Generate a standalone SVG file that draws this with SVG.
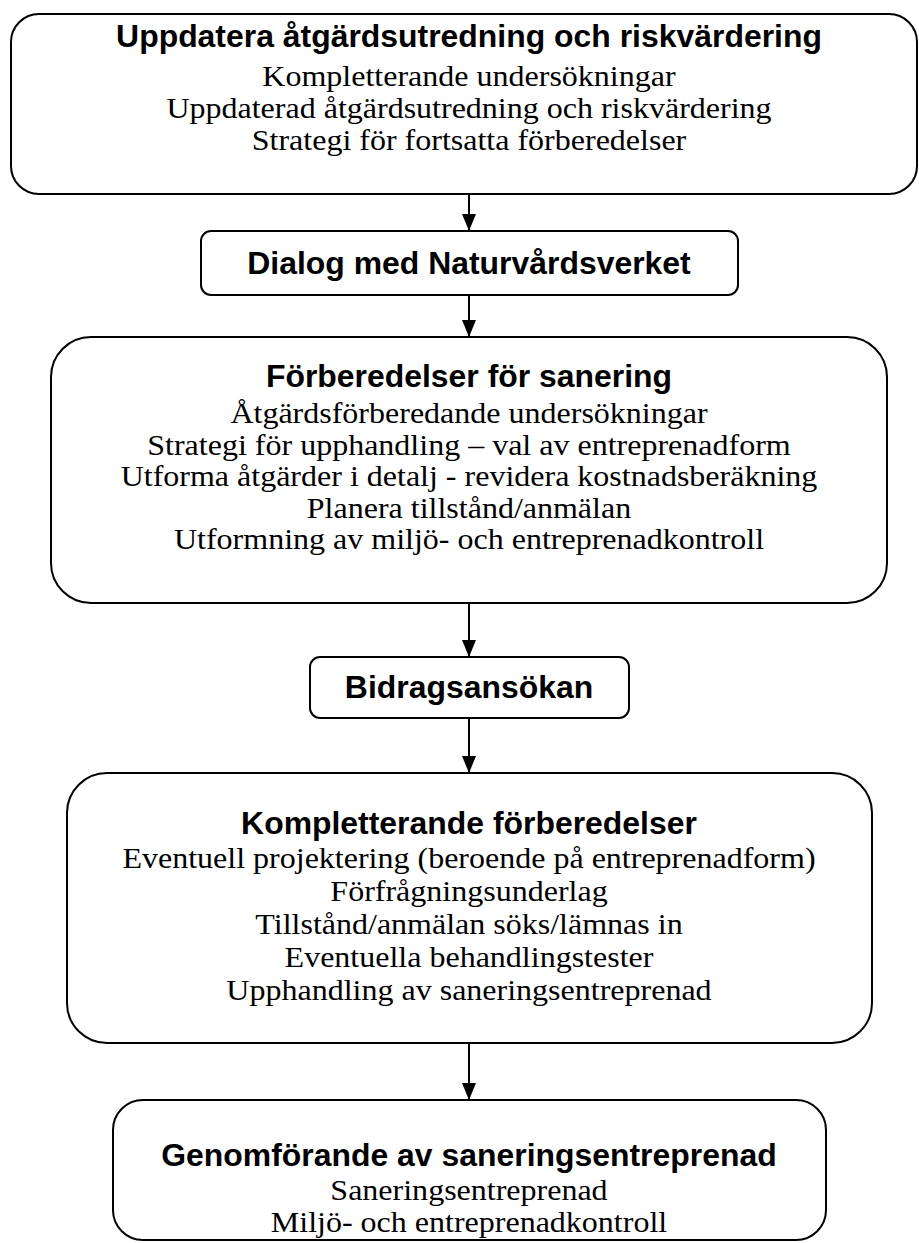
<svg xmlns="http://www.w3.org/2000/svg" width="919" height="1243" viewBox="0 0 919 1243">
<style>
.box{fill:#fff;stroke:#000;stroke-width:2}
.t{font-family:"Liberation Sans",Arial,sans-serif;font-weight:bold;font-size:31px;text-anchor:middle;fill:#000}
.s{font-family:"Liberation Serif","Times New Roman",serif;font-size:30px;text-anchor:middle;fill:#000}
.c{stroke:#000;stroke-width:2;fill:none}
</style>
<defs>
<marker id="ah" markerUnits="userSpaceOnUse" markerWidth="17" markerHeight="14" refX="17" refY="7" orient="auto">
<path d="M0,0 L17,7 L0,14 z" fill="#000"/>
</marker>
</defs>
<rect width="919" height="1243" fill="#fff"/>
<g id="connectors">
<line class="c" x1="469" y1="194" x2="469" y2="231" marker-end="url(#ah)"/>
<line class="c" x1="469" y1="295" x2="469" y2="337" marker-end="url(#ah)"/>
<line class="c" x1="469" y1="603" x2="469" y2="657" marker-end="url(#ah)"/>
<line class="c" x1="469" y1="718" x2="469" y2="773" marker-end="url(#ah)"/>
<line class="c" x1="469" y1="1043" x2="469" y2="1100" marker-end="url(#ah)"/>
</g>
<g id="n1">
<rect class="box" x="11" y="14" width="906" height="180" rx="28"/>
<text class="t" x="469" y="47" transform="matrix(1.03 0 0 1 -14.07 0)">Uppdatera åtgärdsutredning och riskvärdering</text>
<g class="s" transform="matrix(1.067 0 0 1 -31.42 0)">
<text x="469" y="86">Kompletterande undersökningar</text>
<text x="469" y="118">Uppdaterad åtgärdsutredning och riskvärdering</text>
<text x="469" y="150">Strategi för fortsatta förberedelser</text>
</g>
</g>
<g id="n2">
<rect class="box" x="201" y="231" width="537" height="64" rx="10"/>
<text class="t" x="469" y="274" transform="matrix(1.03 0 0 1 -14.07 0)">Dialog med Naturvårdsverket</text>
</g>
<g id="n3">
<rect class="box" x="51" y="337" width="836" height="266" rx="40"/>
<text class="t" x="469" y="387" transform="matrix(1.03 0 0 1 -14.07 0)">Förberedelser för sanering</text>
<g class="s" transform="matrix(1.067 0 0 1 -31.42 0)">
<text x="469" y="423">Åtgärdsförberedande undersökningar</text>
<text x="469" y="455">Strategi för upphandling – val av entreprenadform</text>
<text x="469" y="486">Utforma åtgärder i detalj - revidera kostnadsberäkning</text>
<text x="469" y="518">Planera tillstånd/anmälan</text>
<text x="469" y="549">Utformning av miljö- och entreprenadkontroll</text>
</g>
</g>
<g id="n4">
<rect class="box" x="310" y="657" width="319" height="61" rx="10"/>
<text class="t" x="469" y="698" transform="matrix(1.03 0 0 1 -14.07 0)">Bidragsansökan</text>
</g>
<g id="n5">
<rect class="box" x="67" y="773" width="805" height="270" rx="40"/>
<text class="t" x="469" y="834" transform="matrix(1.03 0 0 1 -14.07 0)">Kompletterande förberedelser</text>
<g class="s" transform="matrix(1.067 0 0 1 -31.42 0)">
<text x="469" y="868">Eventuell projektering (beroende på entreprenadform)</text>
<text x="469" y="901">Förfrågningsunderlag</text>
<text x="469" y="934">Tillstånd/anmälan söks/lämnas in</text>
<text x="469" y="967">Eventuella behandlingstester</text>
<text x="469" y="1000">Upphandling av saneringsentreprenad</text>
</g>
</g>
<g id="n6">
<rect class="box" x="113" y="1100" width="713" height="140" rx="30"/>
<text class="t" x="469" y="1166" transform="matrix(1.03 0 0 1 -14.07 0)">Genomförande av saneringsentreprenad</text>
<g class="s" transform="matrix(1.067 0 0 1 -31.42 0)">
<text x="469" y="1200">Saneringsentreprenad</text>
<text x="469" y="1232">Miljö- och entreprenadkontroll</text>
</g>
</g>
</svg>
